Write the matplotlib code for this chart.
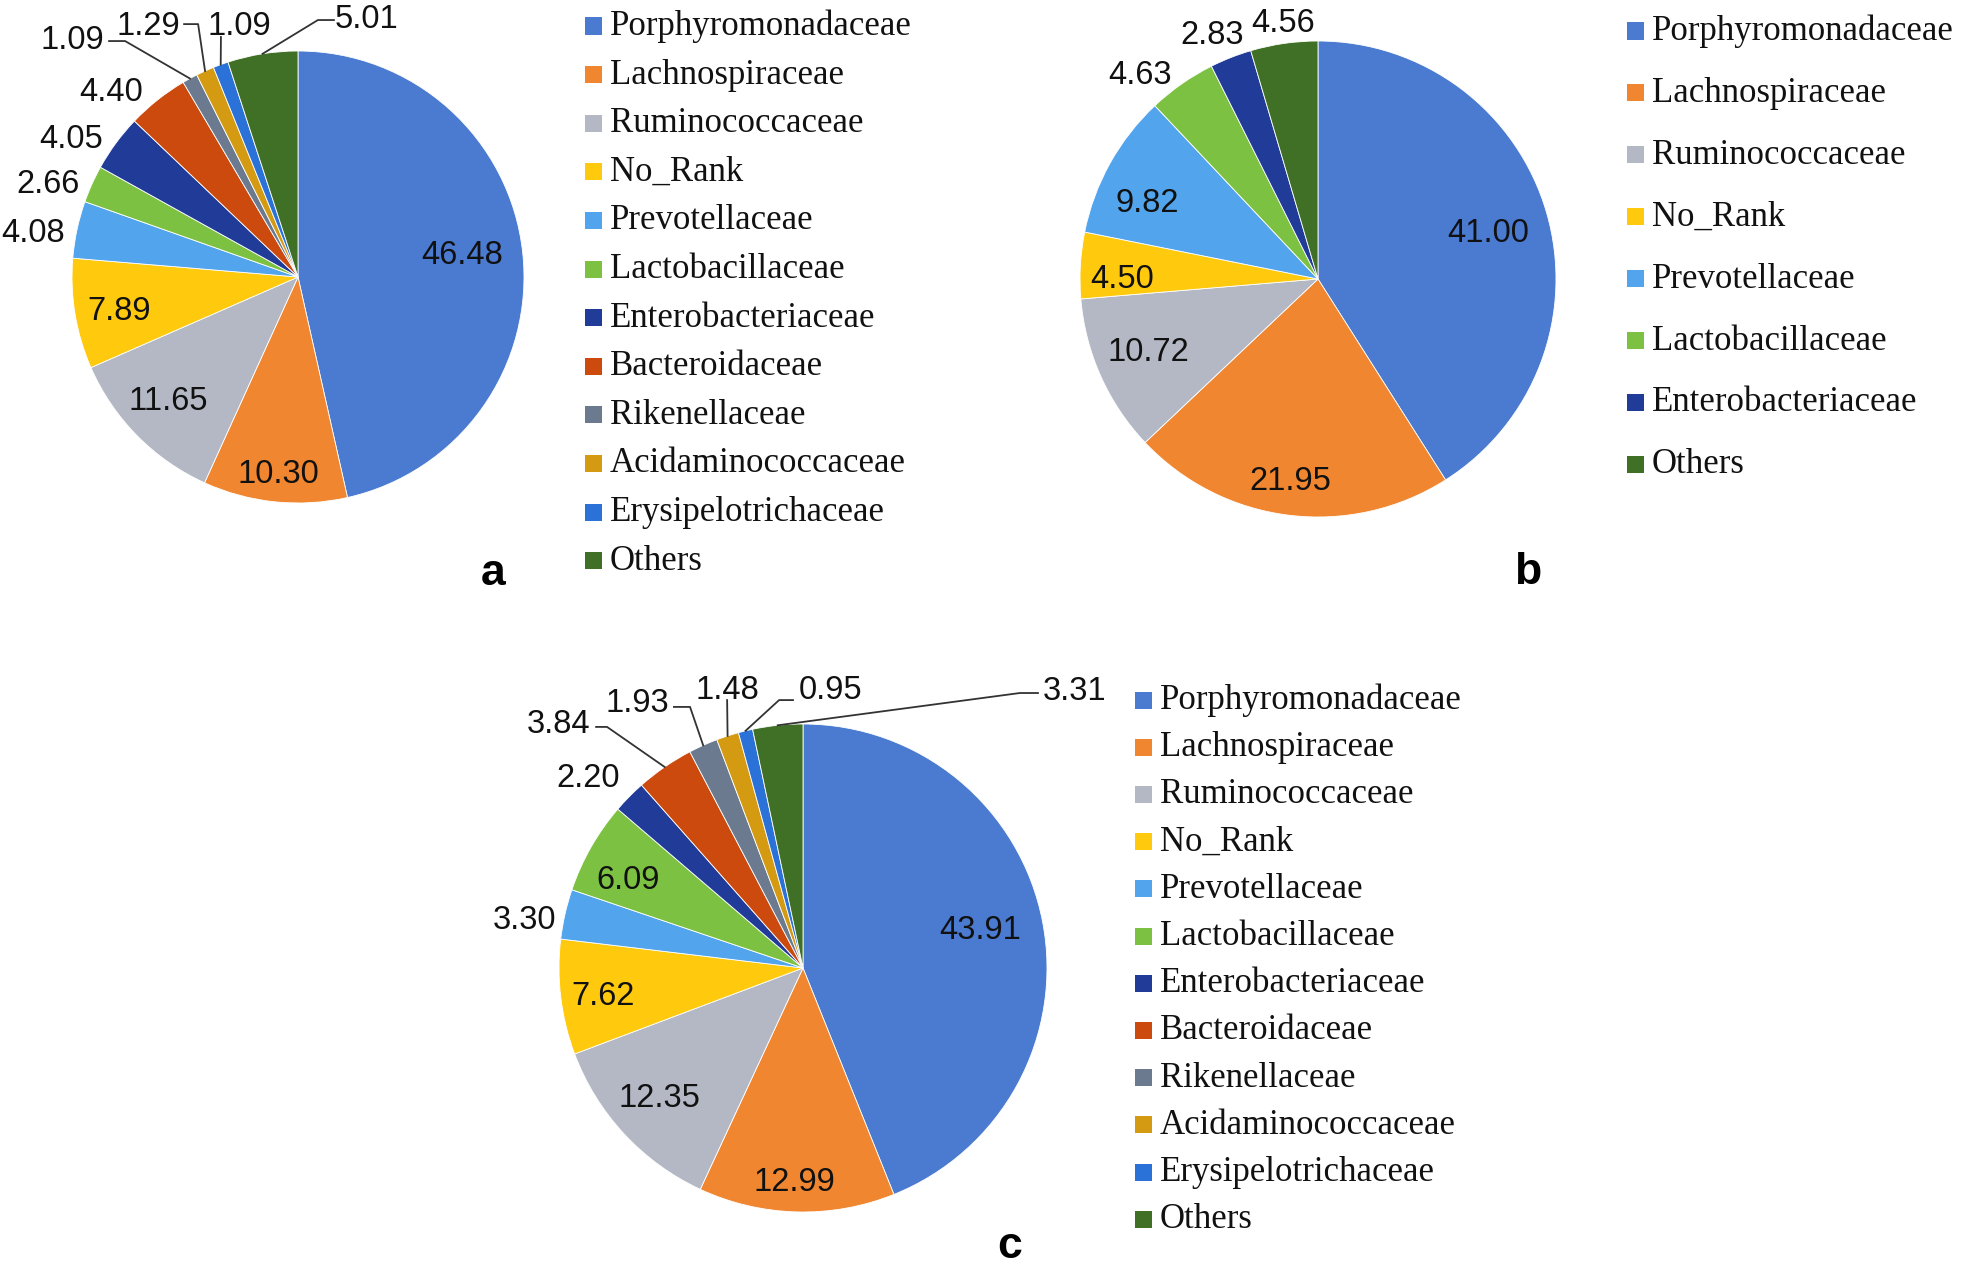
import numpy as np
import matplotlib
matplotlib.use("Agg")
import matplotlib.pyplot as plt
from matplotlib import font_manager
from matplotlib.patches import Rectangle

W, H = 1961, 1265

# family names (legend order)
families = ["Porphyromonadaceae", "Lachnospiraceae", "Ruminococcaceae", "No_Rank",
            "Prevotellaceae", "Lactobacillaceae", "Enterobacteriaceae", "Bacteroidaceae",
            "Rikenellaceae", "Acidaminococcaceae", "Erysipelotrichaceae", "Others"]
families_b = ["Porphyromonadaceae", "Lachnospiraceae", "Ruminococcaceae", "No_Rank",
              "Prevotellaceae", "Lactobacillaceae", "Enterobacteriaceae", "Others"]

# relative abundance (%)
vals_a = [46.48, 10.30, 11.65, 7.89, 4.08, 2.66, 4.05, 4.40, 1.09, 1.29, 1.09, 5.01]
vals_b = [41.00, 21.95, 10.72, 4.50, 9.82, 4.63, 2.83, 4.56]
vals_c = [43.91, 12.99, 12.35, 7.62, 3.30, 6.09, 2.20, 3.84, 1.93, 1.48, 0.95, 3.31]

colors = {
    "Porphyromonadaceae": "#4a7bd0",
    "Lachnospiraceae": "#f0862f",
    "Ruminococcaceae": "#b3b8c4",
    "No_Rank": "#ffc90e",
    "Prevotellaceae": "#52a5ec",
    "Lactobacillaceae": "#7cc142",
    "Enterobacteriaceae": "#213b98",
    "Bacteroidaceae": "#cc4a0e",
    "Rikenellaceae": "#6b7a8f",
    "Acidaminococcaceae": "#d49a12",
    "Erysipelotrichaceae": "#2a72d8",
    "Others": "#3f7026",
}

# label placement in pie-radius units, plus leader line points
lab_a = [(0.726, 0.115), (-0.088, -0.858), (-0.575, -0.535), (-0.792, -0.133),
         (-1.173, 0.212), (-1.106, 0.425), (-1.004, 0.628), (-0.827, 0.836),
         (-1.0, 1.062), (-0.664, 1.128), (-0.261, 1.124), (0.301, 1.155)]
lead_a = {8: [(-0.836, 1.044), (-0.765, 1.044)], 9: [(-0.504, 1.119), (-0.442, 1.119)],
          10: [(-0.341, 1.062)], 11: [(0.159, 1.137), (0.088, 1.137)]}

lab_b = [(0.714, 0.21), (-0.118, -0.832), (-0.714, -0.294), (-0.824, 0.013),
         (-0.718, 0.336), (-0.748, 0.870), (-0.445, 1.042), (-0.147, 1.092)]
lead_b = {}

lab_c = [(0.725, 0.172), (-0.037, -0.861), (-0.590, -0.520), (-0.820, -0.102),
         (-1.143, 0.213), (-0.717, 0.373), (-0.881, 0.791), (-1.0, 1.016),
         (-0.680, 1.102), (-0.311, 1.152), (0.111, 1.152), (1.115, 1.148)]
lead_c = {7: [(-0.848, 0.988), (-0.803, 0.988)], 8: [(-0.529, 1.070), (-0.463, 1.070)],
          9: [(-0.311, 1.098)], 10: [(-0.041, 1.098), (-0.098, 1.098)],
          11: [(0.963, 1.127), (0.889, 1.127)]}

# narrow sans for the numbers if there is one, else shrink regular sans
installed = {f.name for f in font_manager.fontManager.ttflist}
if "Liberation Sans Narrow" in installed:
    NUM_FONT, NUM_PT = ["Liberation Sans Narrow", "DejaVu Sans"], 26
else:
    NUM_FONT, NUM_PT = ["Liberation Sans", "DejaVu Sans"], 23.5
LEG_FONT = ["Liberation Serif", "DejaVu Serif"]
LEG_PT = 25

fig = plt.figure(figsize=(W / 100, H / 100), dpi=100)


def draw_pie(vals, names, cx, cy, R, labels, leaders):
    ax = fig.add_axes([(cx - R) / W, 1 - (cy + R) / H, 2 * R / W, 2 * R / H])
    wedges, _ = ax.pie(vals, colors=[colors[n] for n in names], startangle=90,
                       counterclock=False, radius=1.0,
                       wedgeprops=dict(linewidth=0.6, edgecolor="white"))
    ax.set_xlim(-1, 1)
    ax.set_ylim(-1, 1)
    ax.axis("off")
    dy = 12.5 / R  # half digit height, in radius units
    for i, (v, (x, y)) in enumerate(zip(vals, labels)):
        ax.text(x, y - dy, f"{v:.2f}", ha="center", va="baseline",
                fontsize=NUM_PT, family=NUM_FONT, color="#111111")
        if i in leaders:
            w = wedges[i]
            th = np.deg2rad((w.theta1 + w.theta2) / 2)
            pts = leaders[i] + [(np.cos(th), np.sin(th))]
            xs, ys = zip(*pts)
            ax.plot(xs, ys, color="#333333", lw=1.3, clip_on=False)
    return ax


def draw_legend(names, x0, y0, pitch):
    for k, n in enumerate(names):
        yc = y0 + k * pitch
        fig.add_artist(Rectangle((x0 / W, 1 - (yc + 8.5) / H), 17 / W, 17 / H,
                                 transform=fig.transFigure, color=colors[n], lw=0))
        fig.text((x0 + 25) / W, 1 - (yc + 9) / H, n, ha="left", va="baseline",
                 fontsize=LEG_PT, family=LEG_FONT, color="#111111")


draw_pie(vals_a, families, 298, 277, 226, lab_a, lead_a)
draw_pie(vals_b, families_b, 1318, 279, 238, lab_b, lead_b)
draw_pie(vals_c, families, 803, 968, 244, lab_c, lead_c)

draw_legend(families, 585, 26, 48.6)
draw_legend(families_b, 1627, 31, 61.9)
draw_legend(families, 1135, 700, 47.2)

for letter, x, y in [("a", 493, 585), ("b", 1528, 584), ("c", 1010, 1258)]:
    fig.text(x / W, 1 - y / H, letter, ha="center", va="baseline",
             fontsize=32, fontweight="bold", family=["Liberation Sans", "DejaVu Sans"])

fig.savefig("out.png", dpi=100, facecolor="white")
